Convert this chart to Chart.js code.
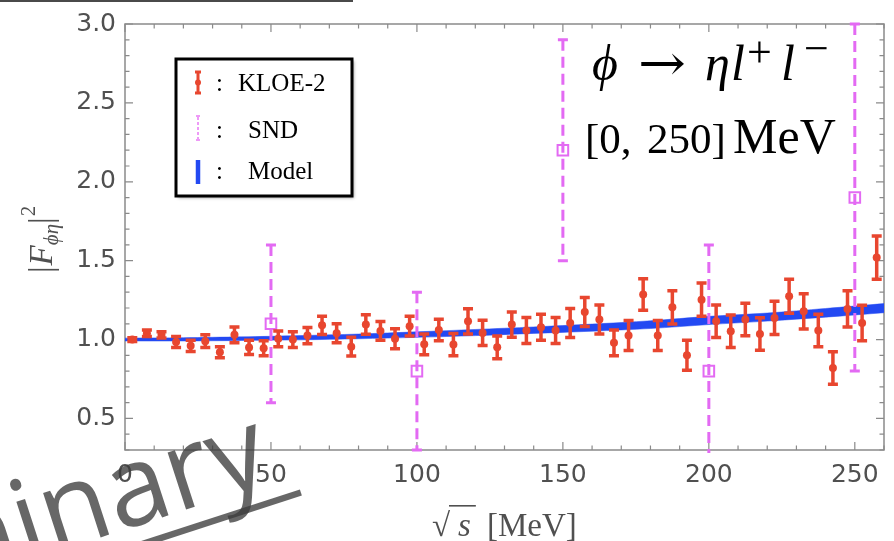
<!DOCTYPE html>
<html>
<head>
<meta charset="utf-8">
<script src="https://cdn.jsdelivr.net/npm/chart.js@4.4.1/dist/chart.umd.min.js"></script>
<style>
  html, body { margin: 0; padding: 0; background: #fff; }
  #wrap { position: relative; width: 894px; height: 541px; overflow: hidden; }
</style>
</head>
<body>
<div id="wrap"><canvas id="formFactorChart" width="894" height="541"></canvas></div>
<script>
// KLOE-2 points (sqrt(s) in MeV, |F|^2, error)
const kloeX = [2.5, 7.5, 12.5, 17.5, 22.5, 27.5, 32.5, 37.5, 42.5, 47.5,
               52.5, 57.5, 62.5, 67.5, 72.5, 77.5, 82.5, 87.5, 92.5, 97.5,
               102.5, 107.5, 112.5, 117.5, 122.5, 127.5, 132.5, 137.5, 142.5, 147.5,
               152.5, 157.5, 162.5, 167.5, 172.5, 177.5, 182.5, 187.5, 192.5, 197.5,
               202.5, 207.5, 212.5, 217.5, 222.5, 227.5, 232.5, 237.5, 242.5, 247.5,
               252.5, 257.5];
const kloeY = [1.00, 1.04, 1.03, 0.985, 0.96, 0.99, 0.92, 1.03, 0.95, 0.945,
               1.005, 1.00, 1.025, 1.09, 1.04, 0.955, 1.095, 1.055, 1.005, 1.085,
               0.97, 1.06, 0.968, 1.116, 1.042, 0.951, 1.095, 1.057, 1.078, 1.057,
               1.105, 1.175, 1.127, 0.979, 1.025, 1.285, 1.025, 1.204, 0.90, 1.253,
               1.116, 1.053, 1.127, 1.035, 1.137, 1.274, 1.179, 1.057, 0.82, 1.194,
               1.105, 1.52];
const kloeErr = [0.012, 0.02, 0.02, 0.035, 0.035, 0.04, 0.035, 0.05, 0.045, 0.048,
                 0.05, 0.05, 0.052, 0.058, 0.06, 0.06, 0.062, 0.06, 0.063, 0.063,
                 0.066, 0.068, 0.07, 0.08, 0.08, 0.072, 0.08, 0.082, 0.082, 0.082,
                 0.092, 0.092, 0.092, 0.082, 0.095, 0.1, 0.095, 0.105, 0.095, 0.105,
                 0.103, 0.103, 0.103, 0.103, 0.105, 0.108, 0.112, 0.103, 0.103, 0.115,
                 0.113, 0.137];

// SND points
const sndX = [50, 100, 150, 200, 250];
const sndY = [1.1, 0.8, 2.2, 0.8, 1.9];
const sndErr = [0.5, 0.5, 0.7, 0.8, 1.1];

// model band
const modelX = [0, 20, 40, 60, 80, 100, 120, 140, 160, 180, 200, 220, 240, 260];
const modelLow = [0.991, 0.991, 0.994, 0.998, 1.005, 1.014, 1.025, 1.039, 1.053, 1.070, 1.095, 1.117, 1.142, 1.170];
const modelHigh = [1.009, 1.012, 1.017, 1.025, 1.035, 1.049, 1.064, 1.080, 1.098, 1.119, 1.147, 1.168, 1.197, 1.228];

// axis ticks
const xTickLabels = [0, 50, 100, 150, 200, 250];
const yTickLabels = [0.5, 1.0, 1.5, 2.0, 2.5, 3.0];

const RED = '#e8462f';
const MAGENTA = '#e36af3';
const BLUE = '#2349f2';
const AXIS = '#8a8a8a';
const LABEL = '#505050';

function isLabelled(list, v) {
    return list.some(t => Math.abs(t - v) < 1e-6);
}

function drawErrorBars(chart, xs, ys, errs, opt) {
    const ctx = chart.ctx;
    const sx = chart.scales.x, sy = chart.scales.y;
    const a = chart.chartArea;
    ctx.save();
    ctx.beginPath();
    ctx.rect(a.left - 2, a.top - 3, a.right - a.left + 4, a.bottom - a.top + 6);
    ctx.clip();
    ctx.strokeStyle = opt.color;
    ctx.lineWidth = opt.width;
    for (let i = 0; i < xs.length; i++) {
        const px = sx.getPixelForValue(xs[i]);
        const top = sy.getPixelForValue(ys[i] + errs[i]);
        const bot = sy.getPixelForValue(ys[i] - errs[i]);
        ctx.setLineDash(opt.dash || []);
        ctx.beginPath();
        ctx.moveTo(px, top);
        ctx.lineTo(px, bot);
        ctx.stroke();
        ctx.setLineDash([]);
        ctx.beginPath();
        ctx.moveTo(px - opt.cap, top);
        ctx.lineTo(px + opt.cap, top);
        ctx.moveTo(px - opt.cap, bot);
        ctx.lineTo(px + opt.cap, bot);
        ctx.stroke();
    }
    ctx.restore();
}

const errorBarPlugin = {
    id: 'errorBars',
    beforeDatasetDraw(chart, args) {
        if (args.index === 0) {
            drawErrorBars(chart, kloeX, kloeY, kloeErr, {color: RED, width: 3.5, cap: 5});
        } else if (args.index === 1) {
            drawErrorBars(chart, sndX, sndY, sndErr, {color: MAGENTA, width: 3, cap: 5, dash: [11, 6]});
        }
    }
};

const framePlugin = {
    id: 'frame',
    beforeDatasetsDraw(chart) {
        const ctx = chart.ctx;
        const a = chart.chartArea;
        const sx = chart.scales.x, sy = chart.scales.y;
        ctx.save();
        ctx.strokeStyle = AXIS;
        ctx.lineWidth = 1.5;
        ctx.strokeRect(a.left, a.top, a.right - a.left, a.bottom - a.top);
        ctx.lineWidth = 1.2;
        ctx.beginPath();
        sx.ticks.forEach(t => {
            const px = sx.getPixelForValue(t.value);
            const len = isLabelled(xTickLabels, t.value) ? 8 : 4.5;
            ctx.moveTo(px, a.bottom); ctx.lineTo(px, a.bottom - len);
            ctx.moveTo(px, a.top); ctx.lineTo(px, a.top + len);
        });
        sy.ticks.forEach(t => {
            const py = sy.getPixelForValue(t.value);
            const len = isLabelled(yTickLabels, t.value) ? 8 : 4.5;
            ctx.moveTo(a.left, py); ctx.lineTo(a.left + len, py);
            ctx.moveTo(a.right, py); ctx.lineTo(a.right - len, py);
        });
        ctx.stroke();
        ctx.restore();
    }
};

function textRun(ctx, x, y, pieces) {
    let cx = x;
    pieces.forEach(p => {
        ctx.font = p.font;
        ctx.fillText(p.t, cx, y + (p.dy || 0));
        cx += ctx.measureText(p.t).width + (p.gap || 0);
    });
    return cx;
}

const decorPlugin = {
    id: 'decor',
    afterDraw(chart) {
        const ctx = chart.ctx;
        ctx.save();
        ctx.textBaseline = 'alphabetic';
        ctx.textAlign = 'left';

        // slide line at the top
        ctx.fillStyle = '#4a4a4a';
        ctx.fillRect(0, 0, 353, 2);

        // y axis title
        ctx.save();
        ctx.translate(52, 273);
        ctx.rotate(-Math.PI / 2);
        ctx.fillStyle = LABEL;
        textRun(ctx, 0, 0, [
            {t: '|', font: '33px "Liberation Serif"', gap: 1},
            {t: 'F', font: 'italic 33px "Liberation Serif"'},
            {t: 'ϕη', font: 'italic 21px "Liberation Serif"', dy: 6},
            {t: '|', font: '33px "Liberation Serif"', gap: 1},
            {t: '2', font: '21px "Liberation Serif"', dy: -17}
        ]);
        ctx.restore();

        // x axis title
        ctx.fillStyle = LABEL;
        ctx.font = '33px "Liberation Serif"';
        ctx.fillText('√', 432, 536);
        ctx.font = 'italic 33px "Liberation Serif"';
        const sW = ctx.measureText('s').width;
        ctx.fillText('s', 458, 536);
        ctx.fillRect(449, 505, sW + 14, 1.6);
        ctx.font = '33px "Liberation Serif"';
        ctx.fillText('[MeV]', 487, 536);

        // process label
        ctx.fillStyle = '#000';
        const it = 'italic 50px "Liberation Serif"';
        const sup = '44px "Liberation Serif"';
        ctx.font = it; ctx.fillText('ϕ', 592, 80);
        ctx.save();
        ctx.font = '50px "DejaVu Serif"';
        const arrW = ctx.measureText('→').width;
        ctx.translate(638, 80);
        ctx.scale(48 / arrW, 1);
        ctx.fillText('→', 0, 0);
        ctx.restore();
        ctx.font = it; ctx.fillText('η', 705, 80);
        ctx.font = it; ctx.fillText('l', 731, 80);
        ctx.font = sup; ctx.fillText('+', 747, 67);
        ctx.font = it; ctx.fillText('l', 781, 80);
        ctx.font = sup; ctx.fillText('−', 804, 63);

        ctx.font = '43px "Liberation Serif"';
        ctx.fillText('[0,', 585, 153);
        ctx.fillText('250]', 647, 153);
        ctx.font = '50px "Liberation Serif"';
        ctx.fillText('MeV', 733, 153);

        // legend
        ctx.save();
        ctx.shadowColor = 'rgba(0,0,0,0.35)';
        ctx.shadowOffsetX = 2;
        ctx.shadowOffsetY = 2;
        ctx.shadowBlur = 3;
        ctx.fillStyle = '#fff';
        ctx.fillRect(176, 59, 176, 137);
        ctx.restore();
        ctx.strokeStyle = '#000';
        ctx.lineWidth = 3;
        ctx.strokeRect(176, 59, 176, 137);

        // legend icons
        ctx.lineWidth = 3;
        ctx.strokeStyle = RED;
        ctx.beginPath();
        ctx.moveTo(198, 72); ctx.lineTo(198, 93);
        ctx.moveTo(195, 72); ctx.lineTo(201, 72);
        ctx.moveTo(195, 93); ctx.lineTo(201, 93);
        ctx.stroke();
        ctx.fillStyle = RED;
        ctx.beginPath(); ctx.arc(198, 82.5, 3, 0, Math.PI * 2); ctx.fill();

        ctx.strokeStyle = '#ee9af7';
        ctx.lineWidth = 2;
        ctx.setLineDash([3, 2]);
        ctx.beginPath(); ctx.moveTo(198, 117); ctx.lineTo(198, 140); ctx.stroke();
        ctx.setLineDash([]);
        ctx.beginPath();
        ctx.moveTo(196, 116); ctx.lineTo(200, 116);
        ctx.moveTo(196, 140); ctx.lineTo(200, 140);
        ctx.stroke();

        ctx.strokeStyle = BLUE;
        ctx.lineWidth = 4.5;
        ctx.beginPath(); ctx.moveTo(198, 160); ctx.lineTo(198, 184); ctx.stroke();

        ctx.fillStyle = '#000';
        ctx.font = '25px "Liberation Serif"';
        ctx.fillText(':', 216, 91);
        ctx.fillText(':', 216, 138);
        ctx.fillText(':', 216, 179);
        ctx.fillText('KLOE-2', 238, 91);
        ctx.fillText('SND', 248, 138);
        ctx.fillText('Model', 248, 179);

        // watermark
        ctx.save();
        ctx.translate(274, 481);
        ctx.rotate(-18 * Math.PI / 180);
        ctx.fillStyle = 'rgba(60,60,60,0.78)';
        ctx.font = '112px "Open Sans"';
        ctx.textAlign = 'right';
        ctx.fillText('Preliminary', 0, 0);
        const wmW = ctx.measureText('Preliminary').width;
        ctx.fillRect(-wmW, 16, wmW + 22, 6.5);
        ctx.restore();

        ctx.restore();
    }
};

const ctxChart = document.getElementById('formFactorChart');

new Chart(ctxChart, {
    type: 'scatter',
    data: {
        datasets: [
            {
                label: 'KLOE-2',
                data: kloeX.map((x, i) => ({x: x, y: kloeY[i]})),
                pointRadius: 4,
                pointStyle: 'circle',
                backgroundColor: RED,
                borderColor: RED,
                borderWidth: 0
            },
            {
                label: 'SND',
                data: sndX.map((x, i) => ({x: x, y: sndY[i]})),
                pointRadius: 7.5,
                pointStyle: 'rect',
                backgroundColor: 'rgba(255,255,255,0)',
                borderColor: MAGENTA,
                borderWidth: 2
            },
            {
                type: 'line',
                label: 'Model',
                data: modelX.map((x, i) => ({x: x, y: modelHigh[i]})),
                borderColor: BLUE,
                backgroundColor: BLUE,
                borderWidth: 0.5,
                pointRadius: 0,
                tension: 0.3,
                fill: '+1'
            },
            {
                type: 'line',
                label: 'Model low',
                data: modelX.map((x, i) => ({x: x, y: modelLow[i]})),
                borderColor: BLUE,
                borderWidth: 0.5,
                pointRadius: 0,
                tension: 0.3,
                fill: false
            }
        ]
    },
    options: {
        responsive: false,
        animation: false,
        layout: {padding: {top: 22, right: 1, left: 0, bottom: 0}},
        plugins: {
            legend: {display: false},
            tooltip: {enabled: false}
        },
        scales: {
            x: {
                type: 'linear',
                min: 0,
                max: 260,
                grid: {display: false, drawTicks: false},
                border: {display: false},
                ticks: {
                    stepSize: 10,
                    autoSkip: false,
                    maxRotation: 0,
                    padding: 10,
                    color: LABEL,
                    font: {family: '"DejaVu Sans"', size: 25},
                    callback: v => isLabelled(xTickLabels, v) ? String(v) : ''
                },
                afterFit: s => { s.height = 91; }
            },
            y: {
                type: 'linear',
                min: 0.3,
                max: 3.0,
                grid: {display: false, drawTicks: false},
                border: {display: false},
                ticks: {
                    stepSize: 0.1,
                    autoSkip: false,
                    padding: 9,
                    color: LABEL,
                    font: {family: '"DejaVu Sans"', size: 25},
                    callback: v => isLabelled(yTickLabels, v) ? Number(v).toFixed(1) : ''
                },
                afterFit: s => { s.width = 125; }
            }
        }
    },
    plugins: [errorBarPlugin, framePlugin, decorPlugin]
});
</script>
</body>
</html>
